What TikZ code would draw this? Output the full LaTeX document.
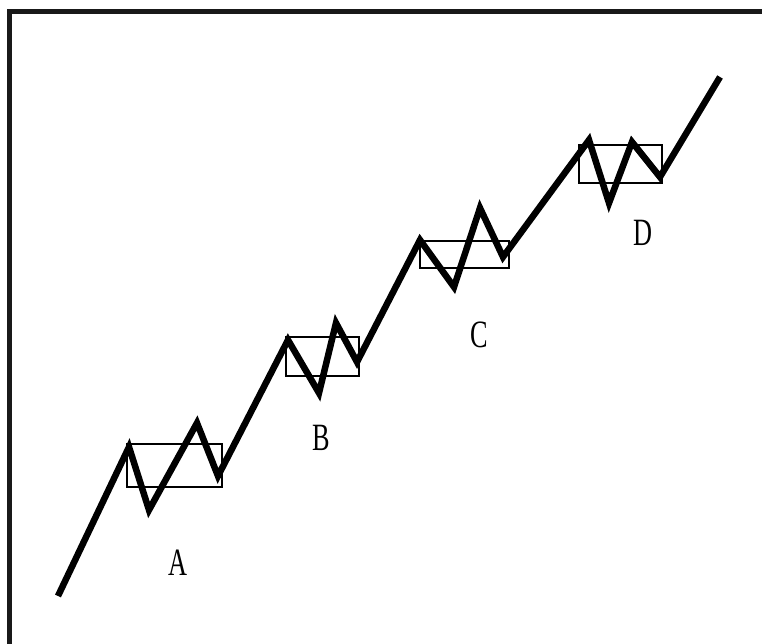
\documentclass[tikz,border=0pt]{standalone}
\usepackage{fontspec}
\setmainfont{Liberation Serif}
\usetikzlibrary{positioning}

\begin{document}
\begin{tikzpicture}[
    x=0.02cm, y=-0.02cm,
    frame/.style={draw=black!90, line width=5*0.02cm},
    trend/.style={draw=black, line width=6.5*0.02cm, line join=miter},
    rangebox/.style={draw=black, line width=1.6*0.02cm},
    lbl/.style={font=\fontsize{22}{24}\selectfont, xscale=0.68, inner sep=0pt}
]
    \useasboundingbox (0,0) rectangle (762,644);

    % =========================================================================
    % FRAME
    % =========================================================================
    \draw [frame] (9,660) -- (9,12) -- (780,12);

    % =========================================================================
    % TURNING POINTS
    % =========================================================================
    \coordinate (start) at (58,596);
    % stage A
    \coordinate (a1) at (129,447);
    \coordinate (a2) at (149,510);
    \coordinate (a3) at (197,423);
    \coordinate (a4) at (218,476);
    % stage B
    \coordinate (b1) at (288,340);
    \coordinate (b2) at (319,393);
    \coordinate (b3) at (336,323);
    \coordinate (b4) at (357,362);
    % stage C
    \coordinate (c1) at (420,240);
    \coordinate (c2) at (454,287);
    \coordinate (c3) at (480,208);
    \coordinate (c4) at (503,257);
    % stage D
    \coordinate (d1) at (589,140);
    \coordinate (d2) at (609,203);
    \coordinate (d3) at (632,142);
    \coordinate (d4) at (660,177);
    \coordinate (finish) at (720,77);

    % =========================================================================
    % CONSOLIDATION BOXES
    % =========================================================================
    \draw [rangebox] (127,444) rectangle (222,487);
    \draw [rangebox] (286,337) rectangle (359,376);
    \draw [rangebox] (420,241) rectangle (509,268);
    \draw [rangebox] (579,145) rectangle (662,183);

    % Trend line
    \draw [trend] (start) -- (a1) -- (a2) -- (a3) -- (a4)
        -- (b1) -- (b2) -- (b3) -- (b4)
        -- (c1) -- (c2) -- (c3) -- (c4)
        -- (d1) -- (d2) -- (d3) -- (d4) -- (finish);

    % Labels
    \node (lbl_a) [lbl] at (178,563) {A};
    \node (lbl_b) [lbl] at (321,438) {B};
    \node (lbl_c) [lbl] at (479,335) {C};
    \node (lbl_d) [lbl] at (643,233) {D};

\end{tikzpicture}
\end{document}
